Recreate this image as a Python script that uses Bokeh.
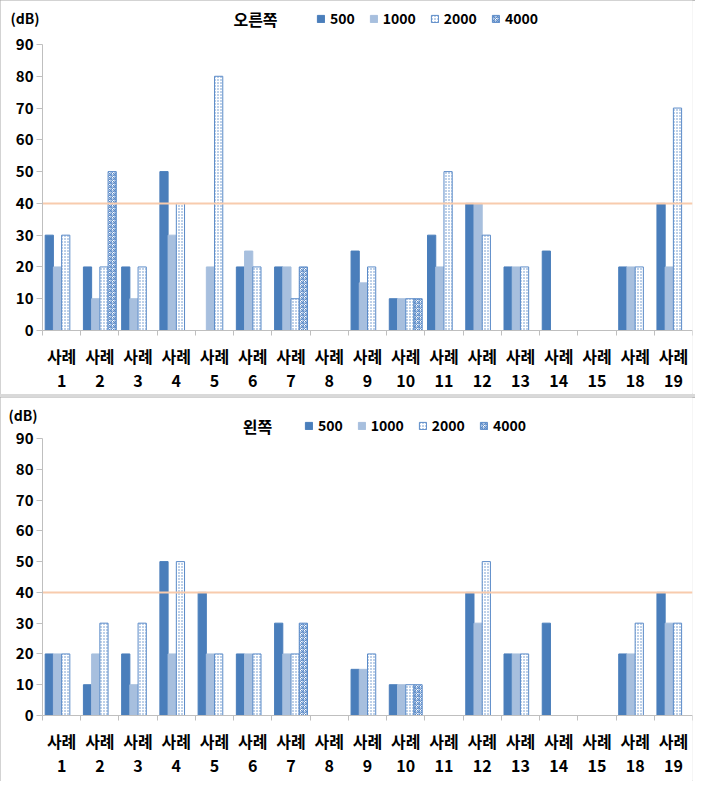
import numpy as np
from bokeh.plotting import figure
from bokeh.models import (ColumnDataSource, Range1d, FixedTicker, Label,
                          Legend, LegendItem)
from bokeh.transform import dodge
from bokeh.layouts import column
from bokeh.embed import file_html
from bokeh.resources import INLINE

# ---------------- data ----------------
cases = ["1", "2", "3", "4", "5", "6", "7", "8", "9", "10",
         "11", "12", "13", "14", "15", "18", "19"]
case_prefix = "사례"
freqs = ["500", "1000", "2000", "4000"]
y_ticks = [0, 10, 20, 30, 40, 50, 60, 70, 80, 90]
threshold = 40
unit_label = "(dB)"

right_title = "오른쪽"
right_500 = [30, 20, 20, 50, None, 20, 20, None, 25, 10, 30, 40, 20, 25, None, 20, 40]
right_1000 = [20, 10, 10, 30, 20, 25, 20, None, 15, 10, 20, 40, 20, None, None, 20, 20]
right_2000 = [30, 20, 20, 40, 80, 20, 10, None, 20, 10, 50, 30, 20, None, None, 20, 70]
right_4000 = [None, 50, None, None, None, None, 20, None, None, 10, None, None, None, None, None, None, None]

left_title = "왼쪽"
left_500 = [20, 10, 20, 50, 40, 20, 30, None, 15, 10, None, 40, 20, 30, None, 20, 40]
left_1000 = [20, 20, 10, 20, 20, 20, 20, None, 15, 10, None, 30, 20, None, None, 20, 30]
left_2000 = [20, 30, 30, 50, 20, 20, 20, None, 20, 10, None, 50, 20, None, None, 30, 30]
left_4000 = [None, None, None, None, None, None, 30, None, None, 10, None, None, None, None, None, None, None]

# ---------------- style ----------------
FONT = "Noto Sans CJK KR"
DARK = "#4A7EBB"
LIGHT = "#A7BFDE"
PAT = "#5B8BC8"
GRAY = "#BFBFBF"
BAR_W = 0.215
OFFS = [-0.3225, -0.1075, 0.1075, 0.3225]
series_style = [
    dict(fill_color=DARK, line_color=DARK),
    dict(fill_color=LIGHT, line_color=LIGHT),
    dict(fill_color="white", line_color=PAT, hatch_pattern="dot", hatch_color=PAT,
         hatch_scale=3, hatch_weight=1),
    dict(fill_color="white", line_color=PAT, hatch_pattern="criss_cross", hatch_color=PAT,
         hatch_scale=4, hatch_weight=1),
]

FIG_W = 695
BORDER_R = 3
AXIS_X = 42          # canvas x of the value axis


def arr(v):
    return np.array([np.nan if x is None else x for x in v], dtype=float)


def make_panel(title, series, height, y90_px, y0_px, db_y, head_y, db_x, title_x, legend_x):
    n = len(cases)
    data = dict(x=list(range(n)))
    for f, v in zip(freqs, series):
        data["s" + f] = arr(v)
    src = ColumnDataSource(data)

    frame_w = FIG_W - BORDER_R
    frame_h = height
    ppu_x = (frame_w - AXIS_X) / n
    x_start = -0.5 - AXIS_X / ppu_x
    ppu_y = (y0_px - y90_px) / y_ticks[-1]
    y_top = y_ticks[-1] + y90_px / ppu_y
    y_bot = -(frame_h - y0_px) / ppu_y

    p = figure(width=FIG_W, height=height,
               x_range=Range1d(x_start, n - 0.5), y_range=Range1d(y_bot, y_top),
               output_backend="svg", toolbar_location=None,
               min_border_left=0, min_border_right=BORDER_R,
               min_border_top=0, min_border_bottom=0)
    p.styles = {"outline": "1px solid #A6A6A6", "outline-offset": "-1px"}
    p.outline_line_color = None
    p.xgrid.visible = False
    p.ygrid.visible = False
    p.background_fill_color = "white"
    p.border_fill_color = "white"

    renderers = []
    for f, off, st in zip(freqs, OFFS, series_style):
        r = p.vbar(x=dodge("x", off, range=p.x_range), top="s" + f, bottom=0,
                   width=BAR_W, source=src, line_width=1, **st)
        renderers.append(r)

    # reference level line across the category area
    p.segment(x0=[-0.5], x1=[n - 0.5], y0=[threshold], y1=[threshold],
              line_color="#F8CBAD", line_width=2)

    # y axis (drawn at the first category boundary)
    ya = p.yaxis[0]
    ya.fixed_location = -0.5
    ya.bounds = (0, y_ticks[-1])
    ya.ticker = FixedTicker(ticks=y_ticks, minor_ticks=[])
    ya.axis_line_color = GRAY
    ya.major_tick_line_color = GRAY
    ya.major_tick_out = 6
    ya.major_tick_in = 0
    ya.minor_tick_line_color = None
    ya.major_label_text_font = FONT
    ya.major_label_text_font_style = "bold"
    ya.major_label_text_font_size = "15px"
    ya.major_label_text_color = "black"
    ya.major_label_standoff = 3

    # x axis (drawn at value 0)
    xa = p.xaxis[0]
    xa.fixed_location = 0
    xa.bounds = (-0.5, n - 0.5)
    xa.ticker = FixedTicker(ticks=list(range(n)),
                            minor_ticks=[i - 0.5 for i in range(n + 1)])
    xa.major_label_overrides = {i: case_prefix + "\n" + c for i, c in enumerate(cases)}
    xa.axis_line_color = GRAY
    xa.major_tick_line_color = None
    xa.major_tick_out = 0
    xa.major_tick_in = 0
    xa.minor_tick_line_color = GRAY
    xa.minor_tick_out = 5
    xa.minor_tick_in = 0
    xa.major_label_text_font = FONT
    xa.major_label_text_font_style = "bold"
    xa.major_label_text_font_size = "16px"
    xa.major_label_text_line_height = 1.0
    xa.major_label_text_color = "black"
    xa.major_label_standoff = 8

    # header texts (screen units from frame bottom-left)
    p.add_layout(Label(x=db_x, y=frame_h - db_y, x_units="screen", y_units="screen",
                       text=unit_label, text_font=FONT, text_font_style="bold",
                       text_color="black",
                       text_font_size="14px", text_baseline="middle", text_align="left"))
    p.add_layout(Label(x=title_x, y=frame_h - head_y, x_units="screen", y_units="screen",
                       text=title, text_font=FONT, text_font_style="bold",
                       text_color="black",
                       text_font_size="16px", text_baseline="middle", text_align="center"))

    items = [LegendItem(label=f, renderers=[r]) for f, r in zip(freqs, renderers)]
    lg = Legend(items=items, location=(legend_x, frame_h - head_y - 10),
                orientation="horizontal",
                label_text_font=FONT, label_text_font_style="bold",
                label_text_color="black",
                label_text_font_size="14px", label_standoff=5,
                glyph_width=9, glyph_height=9, spacing=14, padding=0, margin=0,
                label_height=18, border_line_color=None, background_fill_alpha=0)
    p.add_layout(lg)
    return p


p1 = make_panel(right_title, [right_500, right_1000, right_2000, right_4000],
                height=394, y90_px=44, y0_px=330, db_y=17, head_y=18,
                db_x=10, title_x=255, legend_x=316)
p2 = make_panel(left_title, [left_500, left_1000, left_2000, left_4000],
                height=384, y90_px=41, y0_px=318, db_y=17, head_y=28,
                db_x=8, title_x=257, legend_x=304)

layout = column(p1, p2, spacing=3)
layout.styles = {"background-color": "#D9D9D9"}

open("out.html", "w").write(file_html(layout, INLINE))
